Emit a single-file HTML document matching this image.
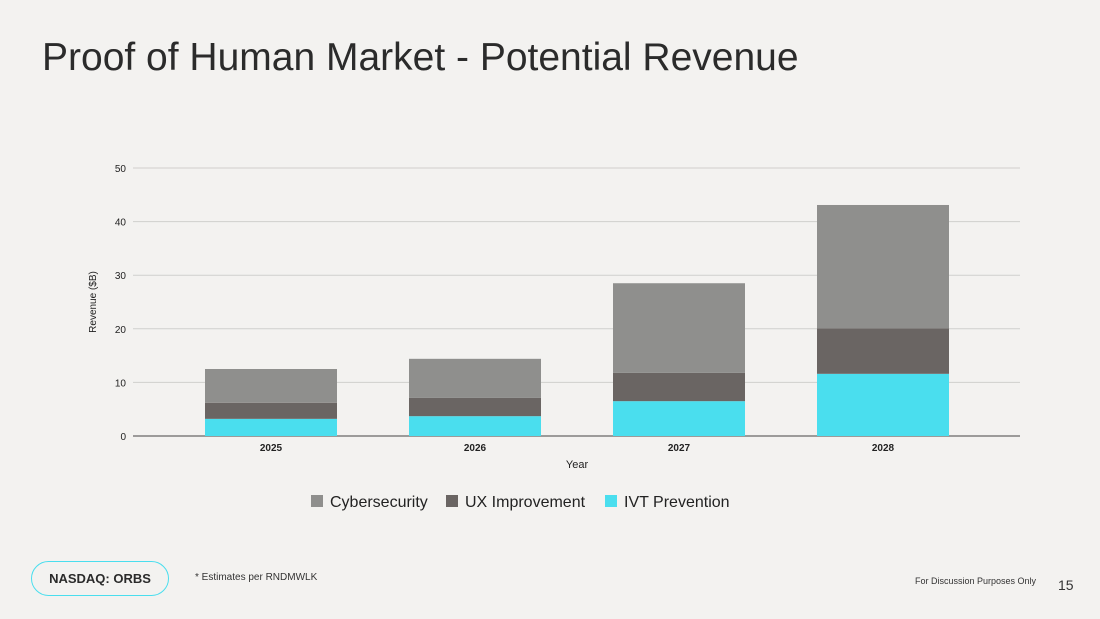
<!DOCTYPE html>
<html><head><meta charset="utf-8"><style>
body{margin:0;width:1100px;height:619px;background:#f3f2f0;font-family:"Liberation Sans",sans-serif;position:relative;overflow:hidden}
.title{position:absolute;left:42px;top:36px;font-size:39px;color:#2b2b2b}
.badge{position:absolute;left:31px;top:561px;width:138px;height:35px;border:1.5px solid #4adeee;border-radius:18px;font-size:13px;font-weight:bold;color:#2b2b2b;display:flex;align-items:center;justify-content:center;box-sizing:border-box}
.note{position:absolute;left:195px;top:572px;font-size:10px;color:#333}
.disc{position:absolute;left:915px;top:576px;font-size:9px;color:#333}
.pg{position:absolute;left:1058px;top:577px;font-size:14px;color:#333}
</style></head><body>
<div class="title">Proof of Human Market - Potential Revenue</div>
<svg id="chart" width="1100" height="619" style="position:absolute;left:0;top:0"></svg>
<div class="badge">NASDAQ: ORBS</div>
<div class="note">* Estimates per RNDMWLK</div>
<div class="disc">For Discussion Purposes Only</div>
<div class="pg">15</div>
<script>
const categories=["2025","2026","2027","2028"];
const ivt=[3.2,3.7,6.5,11.6];
const ux=[3.0,3.4,5.3,8.5];
const cyber=[6.3,7.3,16.7,23.0];
const yTicks=[0,10,20,30,40,50];
const NS="http://www.w3.org/2000/svg";
const svg=document.getElementById('chart');
const x0=133,x1=1020,y0=436,yTop=168,yMax=50;
const bandStart=169,band=204;
const y=v=>y0-(v/yMax)*(y0-yTop);
const bw=132;
function mk(t,a){const e=document.createElementNS(NS,t);for(const k in a)e.setAttribute(k,a[k]);svg.appendChild(e);return e;}
yTicks.forEach(t=>{
 const l=mk('line',{x1:x0,x2:x1,y1:y(t),y2:y(t),stroke:t===0?'#444':'#d0cfcd','stroke-width':1});
 
 
 const tx=mk('text',{x:x0-7,y:y(t)+4,'text-anchor':'end','font-size':10,fill:'#222'});tx.textContent=t;
 
 
});
const series=[[ivt,'#4adeee','ivt'],[ux,'#6a6563','ux'],[cyber,'#8f8f8d','cyber']];
categories.forEach((c,i)=>{
 const cx=bandStart+band*(i+0.5);let base=0;
 series.forEach(([arr,col,n])=>{
  const r=mk('rect',{x:cx-bw/2,y:y(base+arr[i]),width:bw,height:y(base)-y(base+arr[i]),fill:col});
  
  
  base+=arr[i];
 });
 const t=mk('text',{x:cx,y:451,'text-anchor':'middle','font-size':10,'font-weight':'bold',fill:'#222'});t.textContent=c;
 
 
});
let t=mk('text',{x:577,y:468,'text-anchor':'middle','font-size':11,fill:'#222'});t.textContent='Year';


t=mk('text',{x:0,y:0,'text-anchor':'middle','font-size':10,fill:'#222',transform:'translate(96,302) rotate(-90)'});t.textContent='Revenue ($B)';


const leg=[['Cybersecurity','#8f8f8d',311],['UX Improvement','#6a6563',446],['IVT Prevention','#4adeee',605]];
leg.forEach(([n,c,lx])=>{
 const r=mk('rect',{x:lx,y:495,width:12,height:12,fill:c});
 
 
 const tx=mk('text',{x:lx+19,y:507,'font-size':16,fill:'#222'});tx.textContent=n;
 
 
});
</script>
</body></html>
